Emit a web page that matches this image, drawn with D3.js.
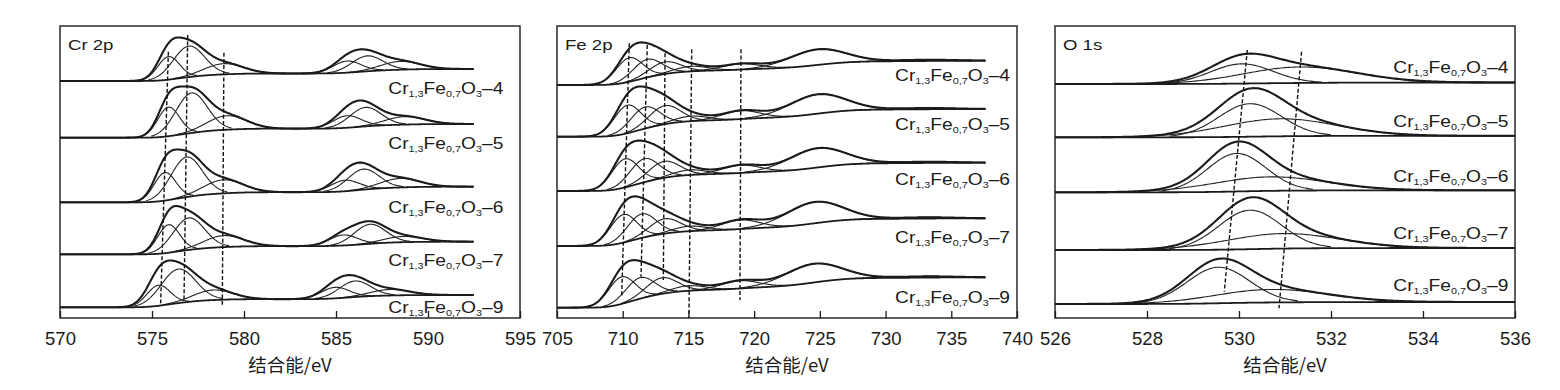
<!DOCTYPE html>
<html><head><meta charset="utf-8">
<script src="https://cdn.jsdelivr.net/npm/d3@7"></script>
<style>body{margin:0;background:#fff}svg{display:block}</style>
</head><body><svg id="chart" width="1560" height="390"></svg>
<script>
// ---------------- DATA ----------------
const sampleNames = ["4", "5", "6", "7", "9"];

// Cr 2p : binding energy range, baseline level (a.u.), Shirley step (a.u.), fitted peaks
const crRange = [570, 592.5];
const crTicks = [570, 575, 580, 585, 590, 595];
const crBase = [237, 180.3, 115.7, 63.7, 10.7];
const crStep = [12, 13.7, 15.6, 12.6, 12.3];
const crCenters = [
  [575.9, 577.0, 578.9, 585.6, 586.7, 588.5],
  [575.9, 577.15, 579.06, 585.6, 586.6, 588.75],
  [575.7, 576.88, 578.88, 585.49, 586.49, 588.48],
  [575.9, 577.0, 578.9, 585.4, 586.85, 588.66],
  [575.35, 576.43, 578.33, 584.95, 586.03, 587.93]];
const crHeights = [
  [23, 31, 10.7, 11.6, 15.4, 8.3],
  [29, 40, 14, 12, 19, 8],
  [28, 40, 13.5, 11, 20.5, 9],
  [28, 32, 11.5, 10.5, 19.5, 5.7],
  [20.5, 34, 10, 11, 16, 6]];
const crFwhm = [
  [1.4, 2.0, 2.5, 1.8, 2.0, 2.5],
  [1.4, 2.0, 2.5, 1.8, 2.0, 2.5],
  [1.4, 2.0, 2.5, 1.8, 2.0, 2.5],
  [1.4, 2.0, 2.5, 1.8, 2.0, 2.5],
  [1.5, 2.2, 2.5, 1.8, 2.0, 2.5]];
// dashed guides: [E top, a.u. top, E bottom, a.u. bottom]
const crGuides = [[575.89, 266.3, 575.47, 14.7], [576.94, 283, 576.74, 18], [578.91, 265.3, 578.82, 11.3]];

// Fe 2p
const feRange = [705, 737.6];
const feTicks = [705, 710, 715, 720, 725, 730, 735, 740];
const feBase = [233, 181.3, 127, 72, 10.3];
const feStep = [24.3, 27.7, 28.3, 27.7, 30.4];
const feCenters = [
  [710.5, 711.87, 713.22, 715.2, 719.0, 724.8, 733],
  [710.35, 711.7, 713.2, 715.2, 719.0, 724.8, 733],
  [710.17, 711.64, 713.14, 715.1, 719.0, 724.8, 733],
  [710.05, 711.44, 713.2, 715.1, 718.95, 724.6, 733],
  [709.92, 711.32, 712.97, 715.0, 718.92, 724.5, 733]];
const feHeights = [
  [24, 18, 12, 5, 5.7, 15.6, 1.2],
  [28, 21.5, 18.5, 5, 8.3, 19.3, 1.2],
  [28.5, 23.5, 16.5, 5, 7.7, 19.3, 1.2],
  [28, 24, 14.8, 5, 9, 21.3, 1.2],
  [27, 21, 16, 5, 7.7, 18.7, 1.2]];
const feFwhm = [
  [2.4, 2.6, 2.8, 3.0, 3.4, 5.0, 5],
  [2.4, 2.6, 2.8, 3.0, 3.4, 5.0, 5],
  [2.4, 2.6, 2.8, 3.0, 3.4, 5.0, 5],
  [2.4, 2.6, 2.8, 3.0, 3.4, 5.0, 5],
  [2.4, 2.6, 2.8, 3.0, 3.4, 5.0, 5]];
const feGuides = [[710.5, 274.7, 709.92, 21.3], [711.87, 273, 711.39, 41.3], [713.22, 264.7, 713.09, 38],
                  [715.25, 268.7, 715.04, 1.3], [719.0, 268.7, 718.92, 18]];

// O 1s
const oRange = [526, 536];
const oTicks = [526, 528, 530, 532, 534, 536];
const oBase = [234, 180.7, 125.7, 68, 14];
const oStep = [1.5, 1.5, 2, 2, 2];
const oCenters = [[530.06, 531.33], [530.24, 530.89], [529.95, 530.67], [530.24, 530.95], [529.55, 530.7]];
const oHeights = [[19.7, 16], [33, 17.5], [38, 14], [39, 15], [36, 13]];
const oFwhm = [[1.6, 2.9], [1.6, 2.9], [1.5, 2.9], [1.6, 2.9], [1.6, 2.9]];
const oGuides = [[530.18, 268, 529.68, 26.3], [531.36, 266.3, 530.87, 9.7]];

// ---------------- LAYOUT ----------------
const plotTop = 26, plotBottom = 318;
const panels = [
  {name: "Cr 2p", left: 60, right: 520, range: crRange, ticks: crTicks, base: crBase, step: crStep,
   centers: crCenters, heights: crHeights, fwhm: crFwhm, guides: crGuides,
   labelX: 503.3, labelY: [94.3, 149.3, 213.3, 265.7, 313.3]},
  {name: "Fe 2p", left: 557, right: 1017, range: feRange, ticks: feTicks, base: feBase, step: feStep,
   centers: feCenters, heights: feHeights, fwhm: feFwhm, guides: feGuides,
   labelX: 1010, labelY: [81, 130, 185, 242.7, 302.7]},
  {name: "O 1s", left: 1055, right: 1515, range: oRange, ticks: oTicks, base: oBase, step: oStep,
   centers: oCenters, heights: oHeights, fwhm: oFwhm, guides: oGuides,
   labelX: 1508.3, labelY: [73.3, 126.7, 181.7, 239, 291]}
];

const svg = d3.select("#chart");
const FONT = "'Liberation Sans', Arial, Helvetica, sans-serif";
const INK = "#1b1b1b";
const WIDE = 1.2; // horizontal stretch of the in-plot lettering

function erf(v) {
  const s = Math.sign(v); v = Math.abs(v);
  const t = 1 / (1 + 0.3275911 * v);
  const r = 1 - (((((1.061405429 * t - 1.453152027) * t) + 1.421413741) * t - 0.284496736) * t + 0.254829592) * t * Math.exp(-v * v);
  return s * r;
}

panels.forEach(p => {
  const tickMin = d3.min(p.ticks), tickMax = d3.max(p.ticks);
  const x = d3.scaleLinear().domain([tickMin, tickMax]).range([p.left, p.right]);
  const y = d3.scaleLinear().domain([0, plotBottom - plotTop]).range([plotBottom, plotTop]);
  const g = svg.append("g");
  const grid = d3.range(p.range[0], p.range[1] + 1e-9, 0.04);

  sampleNames.forEach((nm, i) => {
    const cs = p.centers[i], hs = p.heights[i], ws = p.fwhm[i].map(w => w / 2.3548);
    const areas = hs.map((h, k) => h * ws[k]);
    const total = d3.sum(areas);
    const comp = (E, k) => hs[k] * Math.exp(-0.5 * ((E - cs[k]) / ws[k]) ** 2);
    const bg = E => p.base[i] + p.step[i] * d3.sum(areas, (a, k) => a * 0.5 * (1 + erf((E - cs[k]) / (ws[k] * Math.SQRT2)))) / total;
    const env = E => bg(E) + d3.sum(cs, (c, k) => comp(E, k));
    const line = d3.line().x(d => x(d[0])).y(d => y(d[1]));

    // components
    cs.forEach((c, k) => {
      const pts = grid.filter(E => Math.abs(E - c) <= 2.6 * ws[k]).map(E => [E, bg(E) + comp(E, k)]);
      g.append("path").attr("d", line(pts)).attr("fill", "none").attr("stroke", "#222").attr("stroke-width", 1.1);
    });
    // background
    g.append("path").attr("d", line(grid.map(E => [E, bg(E)]))).attr("fill", "none")
      .attr("stroke", INK).attr("stroke-width", 1.8);
    // envelope
    g.append("path").attr("d", line(grid.map(E => [E, env(E)]))).attr("fill", "none")
      .attr("stroke", INK).attr("stroke-width", 2.1).attr("stroke-linejoin", "round");

    // label
    const t = g.append("text").attr("transform", `translate(${p.labelX},${p.labelY[i]}) scale(${WIDE},1)`)
      .attr("text-anchor", "end").attr("font-family", FONT).attr("font-size", 16).attr("fill", INK);
    const parts = [["Cr", 0], ["1,3", 1], ["Fe", 0], ["0,7", 1], ["O", 0], ["3", 1], ["\u2013" + nm, 0]];
    let prevSub = false;
    parts.forEach(([s, sub]) => {
      const ts = t.append("tspan").text(s);
      if (sub) { ts.attr("font-size", 9).attr("dy", prevSub ? 0 : 3); }
      else { ts.attr("dy", prevSub ? -3 : 0); }
      prevSub = !!sub;
    });
  });

  // dashed guides
  p.guides.forEach(d => {
    g.append("line").attr("x1", x(d[0])).attr("y1", y(d[1])).attr("x2", x(d[2])).attr("y2", y(d[3]))
      .attr("stroke", "#111").attr("stroke-width", 1.4).attr("stroke-dasharray", "4,2.2");
  });

  // frame
  g.append("rect").attr("x", p.left).attr("y", plotTop).attr("width", p.right - p.left).attr("height", plotBottom - plotTop)
    .attr("fill", "none").attr("stroke", INK).attr("stroke-width", 1.4);

  // axis
  const ax = g.append("g").attr("transform", `translate(0,${plotBottom})`)
    .call(d3.axisBottom(x).tickValues(p.ticks).tickSize(-7).tickPadding(14).tickFormat(d3.format("d")));
  ax.select(".domain").remove();
  ax.selectAll(".tick line").attr("stroke", INK).attr("stroke-width", 1.3);
  ax.selectAll(".tick text").attr("font-family", FONT).attr("font-size", 18.5).attr("fill", INK);

  // axis title
  g.append("text").attr("x", (p.left + p.right) / 2).attr("y", 372).attr("text-anchor", "middle")
    .attr("font-family", "'Noto Sans CJK SC', sans-serif").attr("font-size", 18.5).attr("fill", INK)
    .text("结合能/eV");

  // panel title
  g.append("text").attr("transform", `translate(${p.left + 8},50) scale(${WIDE},1)`)
    .attr("font-family", FONT).attr("font-size", 15.5).attr("fill", INK).text(p.name);
});
</script>
</body></html>
